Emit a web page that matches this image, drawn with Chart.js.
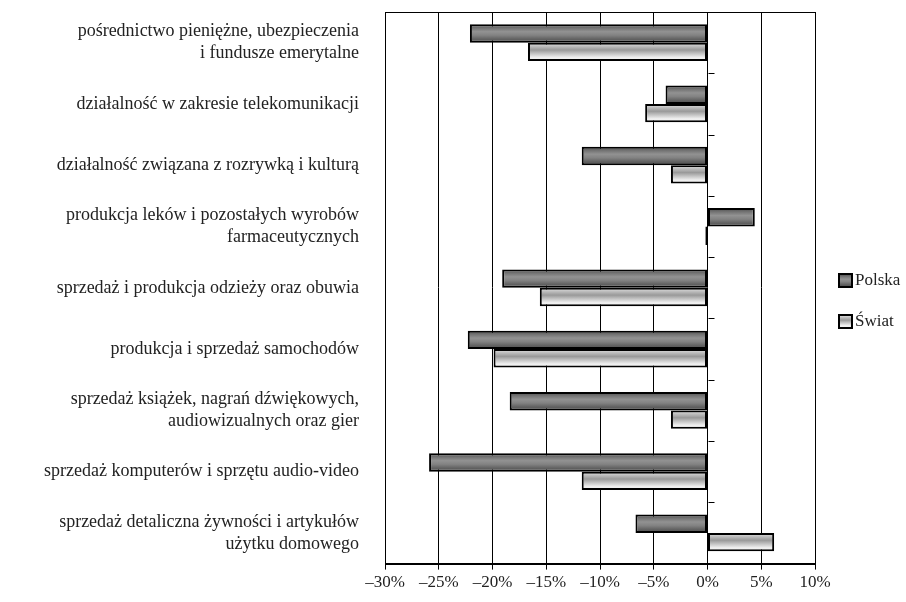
<!DOCTYPE html>
<html lang="pl">
<head>
  <meta charset="utf-8">
  <title>Polska i świat</title>
  <style>
    html, body { margin: 0; padding: 0; background: #fff; }
  </style>
</head>

<body>
  <canvas id="myChart" width="906" height="602"></canvas>

  <script src="https://cdn.jsdelivr.net/npm/chart.js@4"></script>
  <script>
    var categories = [
      ['pośrednictwo pieniężne, ubezpieczenia', 'i fundusze emerytalne'],
      'działalność w zakresie telekomunikacji',
      'działalność związana z rozrywką i kulturą',
      ['produkcja leków i pozostałych wyrobów', 'farmaceutycznych'],
      'sprzedaż i produkcja odzieży oraz obuwia',
      'produkcja i sprzedaż samochodów',
      ['sprzedaż książek, nagrań dźwiękowych,', 'audiowizualnych oraz gier'],
      'sprzedaż komputerów i sprzętu audio-video',
      ['sprzedaż detaliczna żywności i artykułów', 'użytku domowego']
    ];
    var polska = [-22.1, -3.9, -11.7, 4.4, -19.1, -22.3, -18.4, -25.9, -6.7];
    var swiat = [-16.7, -5.8, -3.4, -0.2, -15.6, -19.9, -3.4, -11.7, 6.2];
    var xMin = -30, xMax = 10, xStep = 5;

    var serif = '"Liberation Serif", "DejaVu Serif", serif';
    var darkStops = ['#4c4c4c', '#737373', '#929292', '#828282', '#636363', '#4c4c4c'];
    var lightStops = ['#e6e6e6', '#bdbdbd', '#999999', '#c4c4c4', '#eeeeee', '#f4f4f4'];
    var catPct = 0.6;

    // vertical gradient across one bar, worked out from the category scale
    function barFill(stops) {
      return function (context) {
        var chart = context.chart, ys = chart.scales.y;
        if (!ys || context.dataIndex === undefined) return stops[2];
        var c = ys.getPixelForValue(context.dataIndex);
        var h = (ys.getPixelForValue(1) - ys.getPixelForValue(0)) * catPct / 2;
        if (!isFinite(c) || !isFinite(h) || h <= 0) return stops[2];
        var top = context.datasetIndex === 0 ? c - h : c;
        var g = chart.ctx.createLinearGradient(0, top, 0, top + h);
        stops.forEach(function (s, i) { g.addColorStop(i / (stops.length - 1), s); });
        return g;
      };
    }

    var frame = {
      id: 'frame',
      beforeDatasetsDraw: function (chart) {
        var c = chart.ctx, a = chart.chartArea;
        c.save();
        c.strokeStyle = '#000';
        c.lineWidth = 1;
        c.strokeRect(Math.round(a.left) + 0.5, Math.round(a.top) + 0.5,
          Math.round(a.right - a.left), Math.round(a.bottom - a.top));
        c.restore();
      },
      afterDatasetsDraw: function (chart) {
        // small tick marks on the category axis that crosses at 0%
        var c = chart.ctx, xs = chart.scales.x, ys = chart.scales.y;
        var x0 = Math.round(xs.getPixelForValue(0)) + 0.5;
        c.save();
        c.strokeStyle = '#000';
        c.lineWidth = 1;
        c.beginPath();
        for (var i = 0; i <= categories.length; i++) {
          var yy = Math.round(ys.getPixelForValue(i - 0.5)) + 0.5;
          c.moveTo(x0, yy);
          c.lineTo(x0 + 6, yy);
        }
        c.stroke();
        c.restore();
      },
      afterDraw: function (chart) {
        // legend on the right
        var c = chart.ctx, a = chart.chartArea;
        var mid = chart.height / 2;
        c.save();
        c.font = '17px ' + serif;
        c.textBaseline = 'middle';
        c.textAlign = 'left';
        chart.data.datasets.forEach(function (ds, i) {
          var cy = mid - 20.5 + i * 41;
          var bx = a.right + 24, by = cy - 6.5, s = 13;
          var stops = i === 0 ? darkStops : lightStops;
          var g = c.createLinearGradient(0, by, 0, by + s);
          stops.forEach(function (st, k) { g.addColorStop(k / (stops.length - 1), st); });
          c.fillStyle = g;
          c.fillRect(bx, by, s, s);
          c.strokeStyle = '#000';
          c.lineWidth = 2;
          c.strokeRect(bx, by, s, s);
          c.fillStyle = '#222';
          c.fillText(ds.label, bx + s + 3, cy);
        });
        c.restore();
      }
    };

    var ctx = document.getElementById('myChart').getContext('2d');
    var chart = new Chart(ctx, {
      type: 'bar',
      data: {
        labels: categories,
        datasets: [{
          label: 'Polska',
          data: polska,
          backgroundColor: barFill(darkStops),
          borderColor: '#000',
          borderWidth: 2,
          borderSkipped: false
        }, {
          label: 'Świat',
          data: swiat,
          backgroundColor: barFill(lightStops),
          borderColor: '#000',
          borderWidth: 2,
          borderSkipped: false
        }]
      },
      options: {
        indexAxis: 'y',
        responsive: false,
        animation: false,
        devicePixelRatio: 1,
        categoryPercentage: catPct,
        barPercentage: 1,
        layout: { padding: { top: 12, right: 91, bottom: 6, left: 0 } },
        plugins: {
          legend: { display: false },
          tooltip: { enabled: false }
        },
        scales: {
          x: {
            min: xMin,
            max: xMax,
            ticks: {
              stepSize: xStep,
              color: '#222',
              padding: 3,
              font: { family: serif, size: 17 },
              callback: function (v) {
                return v < 0 ? '\u2013' + Math.abs(v) + '%' : v + '%';
              }
            },
            grid: { color: '#000', lineWidth: 1, tickLength: 6 },
            border: { color: '#000', width: 1 }
          },
          y: {
            afterFit: function (scale) {
              scale.width = 385;
              scale.paddingTop = 0;
              scale.paddingBottom = 0;
            },
            ticks: {
              color: '#222',
              padding: 26,
              font: { family: serif, size: 18, lineHeight: 1.22 }
            },
            grid: { display: false, drawTicks: false },
            border: { display: false }
          }
        }
      },
      plugins: [frame]
    });
  </script>
</body>
</html>
